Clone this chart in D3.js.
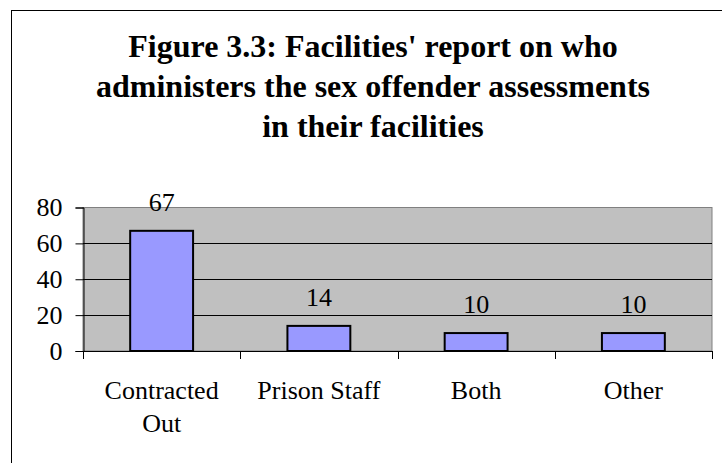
<!DOCTYPE html>
<html>
<head>
<meta charset="utf-8">
<script src="https://cdn.jsdelivr.net/npm/d3@7"></script>
<style>
  html, body { margin: 0; padding: 0; background: #fff; }
  svg text { font-family: "Liberation Serif", "Tinos", "Times New Roman", Times, "DejaVu Serif", serif !important; }
</style>
</head>
<body>
<svg id="chart" width="722" height="463"></svg>
<script>
// Data
const categories = ["Contracted Out", "Prison Staff", "Both", "Other"];
const categoryLines = [["Contracted", "Out"], ["Prison Staff"], ["Both"], ["Other"]];
const values = [67, 14, 10, 10];
const yTicks = [0, 20, 40, 60, 80];
const titleLines = [
  "Figure 3.3: Facilities' report on who",
  "administers the sex offender assessments",
  "in their facilities"
];

const svg = d3.select("#chart");

// Outer frame of the chart area
svg.append("rect")
  .attr("x", 11.5).attr("y", 10.5)
  .attr("width", 740).attr("height", 480)
  .attr("fill", "#fff").attr("stroke", "#000").attr("stroke-width", 1);

// Title
const title = svg.append("text")
  .attr("text-anchor", "middle")
  .attr("font-weight", "bold")
  .attr("font-size", 32)
  .attr("fill", "#000");
titleLines.forEach((t, i) => {
  title.append("tspan").attr("x", 373).attr("y", 57 + i * 40).text(t);
});

// Plot area
const plot = { left: 83, right: 712, top: 207.5, bottom: 351 };

const x = d3.scaleBand()
  .domain(categories)
  .range([plot.left, plot.right])
  .paddingInner(0.6)
  .paddingOuter(0.3);

const xOuter = d3.scaleBand()
  .domain(categories)
  .range([plot.left, plot.right]);

const y = d3.scaleLinear()
  .domain([0, 80])
  .range([plot.bottom, plot.top]);

// Plot background
svg.append("rect")
  .attr("x", plot.left).attr("y", plot.top)
  .attr("width", plot.right - plot.left)
  .attr("height", plot.bottom - plot.top)
  .attr("fill", "#c0c0c0")
  .attr("stroke", "#808080").attr("stroke-width", 1);

// Gridlines
svg.append("g")
  .selectAll("line")
  .data(yTicks.filter(d => d > 0 && d < 80))
  .join("line")
  .attr("x1", plot.left).attr("x2", plot.right)
  .attr("y1", d => Math.round(y(d)) + 0.5)
  .attr("y2", d => Math.round(y(d)) + 0.5)
  .attr("stroke", "#000").attr("stroke-width", 1);

// Y axis
const yAxis = svg.append("g")
  .attr("transform", `translate(${plot.left + 0.5},0)`)
  .call(d3.axisLeft(y).tickValues(yTicks).tickSize(8).tickPadding(13));
yAxis.select(".domain").attr("stroke", "#000");
yAxis.selectAll(".tick line").attr("stroke", "#000");
yAxis.selectAll(".tick text")
  .attr("font-size", 26)
  .attr("fill", "#000");

// X axis with ticks at category boundaries
const xAxisG = svg.append("g");
xAxisG.append("line")
  .attr("x1", plot.left).attr("x2", plot.right)
  .attr("y1", plot.bottom + 0.5).attr("y2", plot.bottom + 0.5)
  .attr("stroke", "#000");
const boundaries = categories.map(c => xOuter(c)).concat([plot.right]);
xAxisG.selectAll("line.tick")
  .data(boundaries)
  .join("line")
  .attr("class", "tick")
  .attr("x1", d => Math.round(d) + 0.5).attr("x2", d => Math.round(d) + 0.5)
  .attr("y1", plot.bottom).attr("y2", plot.bottom + 8)
  .attr("stroke", "#000");

// Category labels
categories.forEach((c, i) => {
  const t = svg.append("text")
    .attr("text-anchor", "middle")
    .attr("font-size", 26)
    .attr("fill", "#000");
  categoryLines[i].forEach((line, j) => {
    t.append("tspan")
      .attr("x", xOuter(c) + xOuter.bandwidth() / 2)
      .attr("y", 399 + j * 33)
      .text(line);
  });
});

// Bars
svg.append("g")
  .selectAll("rect")
  .data(values)
  .join("rect")
  .attr("x", (d, i) => x(categories[i]))
  .attr("y", d => y(d))
  .attr("width", x.bandwidth())
  .attr("height", d => plot.bottom - y(d))
  .attr("fill", "#9999ff")
  .attr("stroke", "#000")
  .attr("stroke-width", 2);

// Value labels
svg.append("g")
  .selectAll("text")
  .data(values)
  .join("text")
  .attr("x", (d, i) => x(categories[i]) + x.bandwidth() / 2)
  .attr("y", d => y(d) - 20)
  .attr("text-anchor", "middle")
  .attr("font-size", 26)
  .attr("fill", "#000")
  .text(d => d);
</script>
</body>
</html>
